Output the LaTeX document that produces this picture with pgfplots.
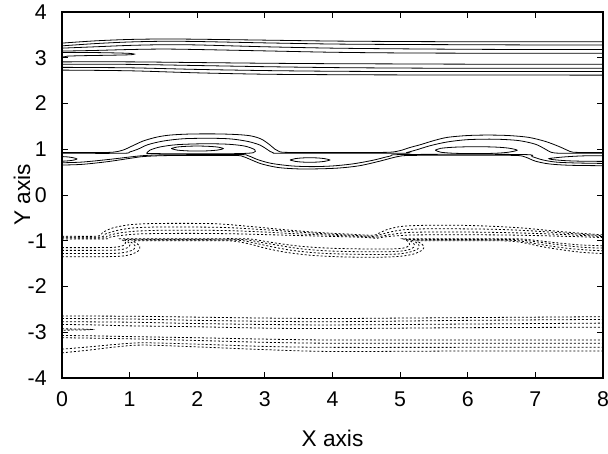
\documentclass[border=0pt]{standalone}
\usepackage{fontspec}
\setmainfont{Liberation Sans}
\usepackage{pgfplots}
\pgfplotsset{compat=1.18}
\begin{document}
\begin{tikzpicture}
\begin{axis}[
  scale only axis, width=405.75pt, height=274.5pt,
  xmin=0, xmax=8, ymin=-4, ymax=4,
  xtick={0,1,2,3,4,5,6,7,8}, ytick={-4,-3,-2,-1,0,1,2,3,4},
  tick align=inside, major tick length=4.5pt,
  /pgf/number format/assume math mode=true,
  tick label style={font=\fontsize{16}{18}\selectfont},
  label style={font=\fontsize{17}{19}\selectfont},
  xticklabel style={yshift=-7pt},
  yticklabel style={xshift=-8pt},
  xlabel={X axis}, ylabel={Y axis},
  xlabel style={at={(axis description cs:0.5,-0.164)}, anchor=center},
  ylabel style={at={(axis description cs:-0.074,0.5)}, anchor=center},
  axis line style={line width=0.8pt},
  every tick/.style={black, line width=0.6pt},
  sol/.style={black, line width=0.6pt, smooth},
  dsh/.style={black, line width=0.6pt, smooth, dash pattern=on 1.5pt off 1.5pt},
]
% ---------- top solid group (y ~ 3) ----------
\addplot[sol] coordinates {(0,3.32) (0.5,3.37) (1,3.40) (1.5,3.41) (2,3.405) (3,3.385) (4,3.365) (5,3.355) (6,3.35) (7,3.35) (8,3.35)};
\addplot[sol] coordinates {(0,3.26) (0.5,3.31) (1,3.345) (1.5,3.36) (2,3.355) (3,3.325) (4,3.30) (5,3.29) (6,3.285) (7,3.28) (8,3.28)};
\addplot[sol] coordinates {(0,3.21) (0.5,3.24) (1,3.27) (1.5,3.285) (2,3.28) (3,3.24) (4,3.21) (5,3.195) (6,3.185) (7,3.18) (8,3.18)};
\addplot[sol] coordinates {(0,3.145) (0.5,3.16) (1,3.18) (1.5,3.19) (2,3.18) (3,3.15) (4,3.12) (5,3.105) (6,3.10) (7,3.10) (8,3.10)};
\addplot[sol] coordinates {(0,3.115) (0.4,3.115) (0.8,3.105) (1.0,3.095) (1.07,3.08) (1.0,3.065) (0.7,3.055) (0.3,3.045) (0.08,3.035) (0.03,3.02) (0,3.015)};
\addplot[sol] coordinates {(0,2.91) (1,2.91) (2,2.895) (3,2.88) (4,2.87) (5,2.865) (6,2.86) (8,2.86)};
\addplot[sol] coordinates {(0,2.86) (1,2.855) (2,2.83) (3,2.805) (4,2.785) (5,2.775) (6,2.77) (8,2.77)};
\addplot[sol] coordinates {(0,2.79) (1,2.78) (2,2.745) (3,2.72) (4,2.705) (5,2.70) (8,2.70)};
\addplot[sol] coordinates {(0,2.73) (1,2.715) (2,2.67) (3,2.64) (4,2.63) (5,2.625) (8,2.62)};
% ---------- middle solid group (y ~ 1) ----------
\addplot[sol] coordinates {(0,0.93) (0.5,0.93) (0.75,0.935) (0.9,0.98) (1.05,1.08) (1.2,1.18) (1.4,1.265) (1.6,1.31) (1.9,1.333) (2.3,1.335) (2.6,1.32) (2.8,1.29) (2.95,1.22) (3.07,1.1) (3.15,1.0) (3.22,0.945) (3.4,0.93) (4.5,0.93) (4.85,0.935) (5.0,0.97) (5.15,1.04) (5.3,1.10) (5.5,1.19) (5.7,1.26) (6.0,1.30) (6.3,1.31) (6.6,1.30) (6.9,1.26) (7.15,1.17) (7.35,1.06) (7.47,0.98) (7.56,0.935) (7.8,0.93) (8,0.93)};
\addplot[sol] coordinates {(0,0.912) (0.9,0.912) (1.0,0.94) (1.12,1.0) (1.27,1.1) (1.5,1.18) (1.8,1.23) (2.2,1.24) (2.5,1.225) (2.75,1.17) (2.93,1.09) (3.04,0.99) (3.12,0.925) (3.3,0.912) (5.0,0.912) (5.1,0.93) (5.25,0.99) (5.45,1.08) (5.7,1.16) (6.0,1.21) (6.4,1.22) (6.75,1.19) (7.0,1.11) (7.15,1.0) (7.24,0.93) (7.4,0.912) (8,0.912)};
\addplot[sol] coordinates {(1.25,0.91) (1.3,0.98) (1.45,1.05) (1.7,1.10) (2.1,1.12) (2.45,1.11) (2.7,1.07) (2.85,0.99) (2.83,0.925) (2.6,0.905) (2.0,0.9) (1.5,0.903) (1.25,0.91)};
\addplot[sol] coordinates {(1.615,1.015) (1.7,1.048) (1.85,1.065) (2.0,1.07) (2.15,1.065) (2.3,1.048) (2.385,1.015) (2.3,0.982) (2.15,0.965) (2.0,0.96) (1.85,0.965) (1.7,0.982) (1.615,1.015)};
\addplot[sol] coordinates {(5.52,0.98) (5.6,1.02) (5.8,1.045) (6.1,1.056) (6.4,1.048) (6.6,1.025) (6.73,0.98) (6.6,0.935) (6.4,0.912) (6.1,0.905) (5.8,0.912) (5.6,0.935) (5.52,0.98)};
\addplot[sol] coordinates {(0,0.655) (0.3,0.67) (0.68,0.73) (1.0,0.80) (1.2,0.84) (1.5,0.86) (2.0,0.865) (2.5,0.865) (2.65,0.855) (2.78,0.78) (2.95,0.68) (3.2,0.6) (3.5,0.57) (3.8,0.572) (4.1,0.59) (4.4,0.64) (4.7,0.74) (4.95,0.835) (5.15,0.865) (6.0,0.867) (6.7,0.865) (6.85,0.83) (7.0,0.74) (7.2,0.68) (7.5,0.65) (8,0.64)};
\addplot[sol] coordinates {(0,0.705) (0.3,0.72) (0.68,0.775) (1.0,0.83) (1.2,0.86) (1.5,0.878) (2.6,0.885) (2.75,0.86) (2.9,0.77) (3.1,0.69) (3.4,0.635) (3.7,0.62) (4.0,0.635) (4.3,0.68) (4.6,0.76) (4.85,0.85) (5.05,0.885) (6.8,0.885) (6.95,0.84) (7.1,0.77) (7.3,0.72) (7.6,0.70) (8,0.69)};
\addplot[sol] coordinates {(3.37,0.765) (3.45,0.795) (3.55,0.81) (3.665,0.815) (3.78,0.81) (3.88,0.795) (3.96,0.765) (3.88,0.735) (3.78,0.72) (3.665,0.715) (3.55,0.72) (3.45,0.735) (3.37,0.765)};
\addplot[sol] coordinates {(0,0.84) (0.1,0.83) (0.18,0.81) (0.22,0.787) (0.18,0.765) (0.1,0.748) (0,0.738)};
\addplot[sol] coordinates {(8,0.86) (7.7,0.855) (7.45,0.835) (7.27,0.81) (7.2,0.795) (7.25,0.775) (7.45,0.75) (7.7,0.738) (8,0.735)};
% ---------- dashed group (y ~ -1): upper edges ----------
\addplot[dsh] coordinates {(0,-0.90) (0.52,-0.90) (0.6,-0.82) (0.75,-0.72) (1.0,-0.65) (1.3,-0.625) (1.8,-0.62) (2.3,-0.63) (2.8,-0.69) (3.3,-0.76) (3.8,-0.82) (4.3,-0.86) (4.6,-0.88) (4.68,-0.84) (4.8,-0.76) (5.0,-0.69) (5.3,-0.665) (5.8,-0.66) (6.3,-0.68) (6.8,-0.72) (7.3,-0.79) (7.7,-0.84) (8,-0.87)};
\addplot[dsh] coordinates {(0,-0.92) (0.56,-0.92) (0.63,-0.86) (0.8,-0.78) (1.05,-0.72) (1.4,-0.70) (1.9,-0.70) (2.4,-0.71) (2.9,-0.75) (3.4,-0.80) (3.9,-0.85) (4.35,-0.885) (4.62,-0.905) (4.7,-0.87) (4.85,-0.81) (5.05,-0.76) (5.35,-0.74) (5.9,-0.74) (6.4,-0.75) (6.9,-0.78) (7.4,-0.83) (7.8,-0.87) (8,-0.89)};
\addplot[dsh] coordinates {(0,-0.94) (0.6,-0.94) (0.67,-0.89) (0.85,-0.83) (1.1,-0.79) (1.5,-0.77) (2.0,-0.77) (2.5,-0.78) (3.0,-0.81) (3.5,-0.85) (4.0,-0.88) (4.4,-0.905) (4.64,-0.925) (4.72,-0.9) (4.88,-0.86) (5.1,-0.82) (5.4,-0.81) (6.0,-0.81) (6.5,-0.82) (7.0,-0.84) (7.5,-0.87) (8,-0.91)};
\addplot[dsh] coordinates {(0,-0.96) (0.64,-0.96) (0.71,-0.92) (0.9,-0.88) (1.15,-0.85) (1.6,-0.84) (2.1,-0.84) (2.6,-0.85) (3.1,-0.87) (3.6,-0.89) (4.1,-0.91) (4.45,-0.925) (4.66,-0.945) (4.75,-0.92) (4.92,-0.895) (5.15,-0.875) (5.5,-0.87) (6.1,-0.87) (6.6,-0.875) (7.1,-0.89) (7.6,-0.91) (8,-0.93)};
% ---------- dashed group (y ~ -1): lower edges ----------
\addplot[dsh] coordinates {(0,-1.35) (0.5,-1.35) (0.85,-1.34) (1.02,-1.30) (1.13,-1.22) (1.15,-1.13) (1.10,-1.05) (1.05,-1.01) (1.1,-1.0) (1.5,-1.0) (2.0,-1.0) (2.45,-1.0) (2.6,-1.02) (2.8,-1.08) (3.0,-1.16) (3.3,-1.25) (3.7,-1.32) (4.2,-1.355) (4.7,-1.36) (5.0,-1.34) (5.2,-1.29) (5.33,-1.2) (5.35,-1.12) (5.3,-1.05) (5.25,-1.01) (5.3,-1.0) (5.8,-1.0) (6.4,-1.0) (6.65,-1.01) (6.85,-1.05) (7.1,-1.13) (7.4,-1.2) (7.7,-1.255) (8,-1.28)};
\addplot[dsh] coordinates {(0,-1.28) (0.5,-1.28) (0.8,-1.275) (0.96,-1.245) (1.06,-1.19) (1.08,-1.11) (1.03,-1.04) (0.98,-0.995) (1.03,-0.985) (1.5,-0.985) (2.0,-0.985) (2.52,-0.985) (2.68,-1.0) (2.88,-1.06) (3.1,-1.13) (3.4,-1.21) (3.8,-1.27) (4.3,-1.295) (4.75,-1.30) (5.0,-1.285) (5.15,-1.245) (5.26,-1.18) (5.28,-1.1) (5.23,-1.03) (5.18,-0.995) (5.23,-0.985) (5.8,-0.985) (6.5,-0.985) (6.72,-0.995) (6.92,-1.04) (7.2,-1.11) (7.5,-1.17) (7.8,-1.205) (8,-1.22)};
\addplot[dsh] coordinates {(0,-1.21) (0.5,-1.21) (0.78,-1.205) (0.92,-1.18) (0.99,-1.13) (1.01,-1.08) (0.97,-1.02) (0.92,-0.98) (0.97,-0.97) (1.5,-0.97) (2.0,-0.97) (2.6,-0.97) (2.76,-0.985) (2.96,-1.04) (3.2,-1.1) (3.5,-1.17) (3.9,-1.22) (4.4,-1.24) (4.8,-1.24) (5.02,-1.225) (5.14,-1.19) (5.2,-1.14) (5.21,-1.08) (5.16,-1.01) (5.11,-0.98) (5.16,-0.97) (5.8,-0.97) (6.55,-0.97) (6.78,-0.98) (7.0,-1.02) (7.3,-1.08) (7.6,-1.13) (7.85,-1.155) (8,-1.16)};
\addplot[dsh] coordinates {(0,-1.15) (0.5,-1.15) (0.74,-1.145) (0.87,-1.125) (0.93,-1.08) (0.94,-1.04) (0.9,-0.99) (0.86,-0.965) (0.91,-0.955) (1.5,-0.955) (2.0,-0.955) (2.66,-0.955) (2.83,-0.97) (3.03,-1.02) (3.3,-1.08) (3.6,-1.13) (4.0,-1.165) (4.5,-1.18) (4.85,-1.18) (5.03,-1.165) (5.11,-1.13) (5.14,-1.08) (5.13,-1.03) (5.08,-0.98) (5.05,-0.962) (5.1,-0.955) (5.8,-0.955) (6.6,-0.955) (6.83,-0.965) (7.05,-1.0) (7.35,-1.05) (7.65,-1.09) (7.9,-1.105) (8,-1.11)};
% ---------- bottom dashed group (y ~ -3) ----------
\addplot[dsh] coordinates {(0,-2.645) (1,-2.65) (2,-2.67) (3,-2.69) (4,-2.70) (5,-2.69) (6,-2.68) (7,-2.67) (8,-2.66)};
\addplot[dsh] coordinates {(0,-2.70) (1,-2.71) (2,-2.74) (3,-2.76) (4,-2.77) (6,-2.74) (8,-2.72)};
\addplot[dsh] coordinates {(0,-2.77) (1,-2.78) (2,-2.81) (3,-2.83) (4,-2.84) (6,-2.82) (8,-2.80)};
\addplot[dsh] coordinates {(0,-2.83) (0.5,-2.84) (1,-2.86) (2,-2.88) (3,-2.91) (4,-2.92) (6,-2.90) (8,-2.89)};
\addplot[dsh] coordinates {(0,-2.925) (0.3,-2.93) (0.44,-2.94) (0.3,-2.95) (0,-2.955)};
\addplot[dsh] coordinates {(0,-3.07) (0.5,-3.08) (1.2,-3.10) (2,-3.12) (3,-3.15) (4,-3.17) (6,-3.17) (8,-3.17)};
\addplot[dsh] coordinates {(0,-3.12) (0.5,-3.13) (1.2,-3.15) (2,-3.18) (3,-3.22) (4,-3.24) (6,-3.24) (8,-3.24)};
\addplot[dsh] coordinates {(0,-3.37) (0.4,-3.32) (0.8,-3.265) (1.2,-3.23) (2,-3.26) (3,-3.31) (4,-3.33) (6,-3.33) (8,-3.33)};
\addplot[dsh] coordinates {(0,-3.45) (0.4,-3.39) (0.8,-3.32) (1.2,-3.28) (2,-3.32) (3,-3.38) (4,-3.42) (6,-3.41) (8,-3.41)};
\end{axis}
\pgfresetboundingbox
\path (-46.5pt,-57pt) rectangle (409.5pt,283.5pt);
\end{tikzpicture}
\end{document}
